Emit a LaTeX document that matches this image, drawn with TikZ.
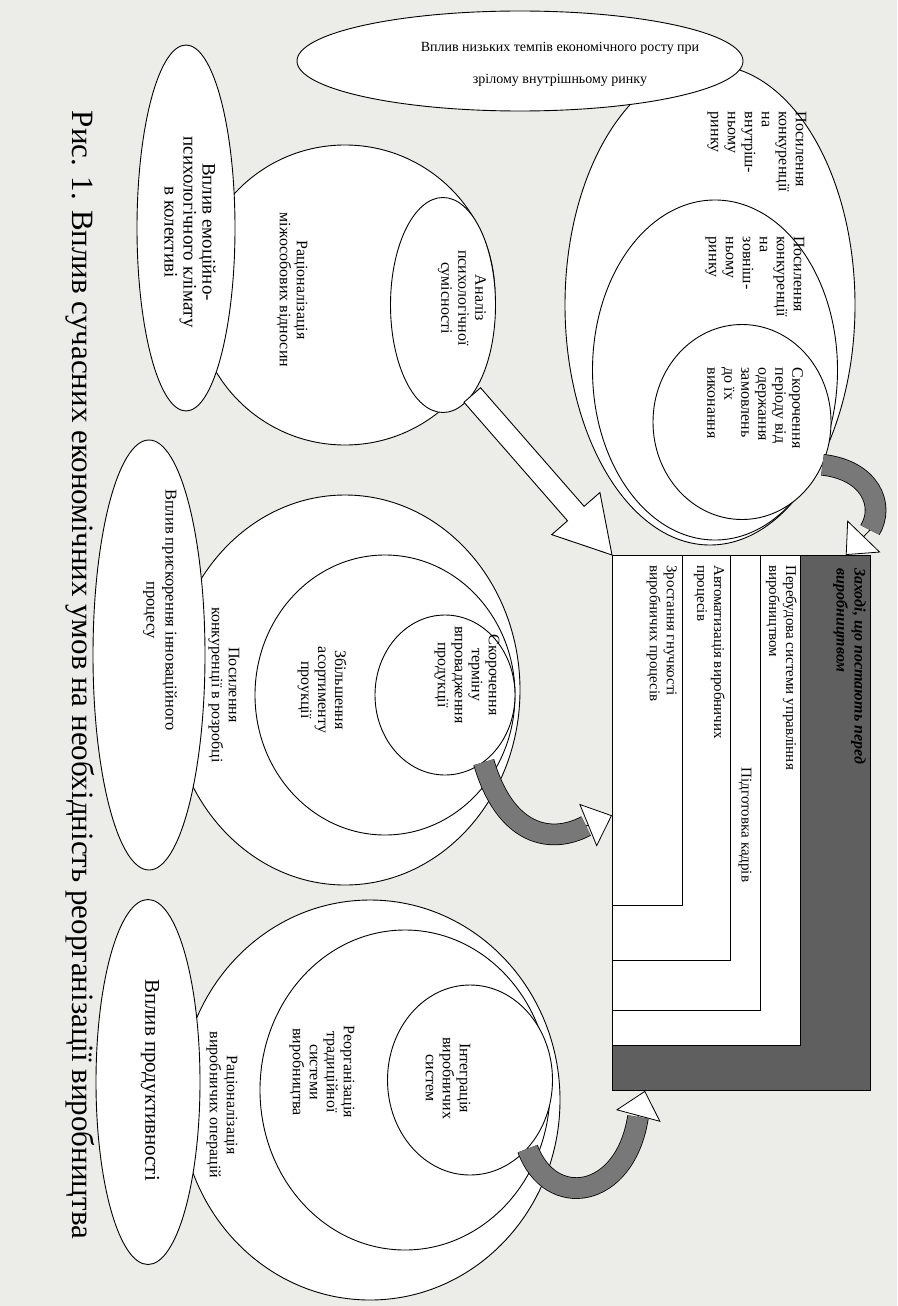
\documentclass[tikz,border=0pt]{standalone}
\usepackage{fontspec}
\setmainfont{Liberation Serif}
\usetikzlibrary{shapes.geometric, arrows.meta, positioning, calc}
\definecolor{paper}{RGB}{236,236,233}
\definecolor{halftone}{RGB}{120,120,120}
\definecolor{darkband}{RGB}{95,95,95}

\tikzset{
  ring/.style={ellipse, draw, line width=0.9pt, fill=white, inner sep=0pt},
  sidenote/.style={ellipse, draw, line width=0.9pt, fill=white, inner sep=0pt},
  vtext/.style={rotate=-90, font=\fontsize{16}{17}\selectfont, align=center, inner sep=0pt},
  bigtext/.style={vtext, font=\fontsize{19}{19}\selectfont},
  stepbox/.style={draw, line width=0.8pt, anchor=north west, inner sep=0pt},
  bentarrow/.style={double=halftone, double distance=20pt, line width=0.8pt},
  arrowhead/.style={line width=0.8pt, -{Triangle[length=26pt, width=46pt, fill=white]}},
}

\begin{document}
\begin{tikzpicture}[x=1pt, y=-1pt]
    \useasboundingbox[fill=paper] (0,0) rectangle (897,1306);

    % Group 1: competition on the markets
    \node[ring, minimum width=290, minimum height=480] (g1out) at (710,305) {};
    \node[sidenote, minimum width=446, minimum height=100] (growth) at (520,61) {};
    \node[align=center, font=\fontsize{14}{32}\selectfont] (growthT) at (560,64)
        {Вплив низьких темпів економічного росту при\\зрілому внутрішньому ринку};
    \node[ring, minimum width=245, minimum height=340] (g1mid) at (715,370) {};
    \node[ring, minimum width=178, minimum height=195] (g1in) at (742,422) {};
    \node[vtext, align=left] (g1outT) at (757,152) {Посилення\\конкуренції\\на\\внутріш-\\ньому\\ринку};
    \node[vtext, align=left] (g1midT) at (755,277) {Посилення\\конкуренції\\на\\зовніш-\\ньому\\ринку};
    \node[vtext, align=left] (g1inT) at (755,408) {Скорочення\\періоду від\\одержання\\замовлень\\до їх\\виконання};

    % Group 2: psychological climate
    \node[ring, minimum width=300, minimum height=300] (g2out) at (345,295) {};
    \node[ring, minimum width=105, minimum height=215] (g2in) at (443,305) {};
    \node[sidenote, minimum width=98, minimum height=366] (emo) at (186,228) {};
    \node[bigtext] (emoT) at (190,232) {Вплив емоційно-\\психологічного клімату\\в колективі};
    \node[vtext] (g2outT) at (292,290) {Раціоналізація\\міжособових відносин};
    \node[vtext] (g2inT) at (462,298) {Аналіз\\психологічної\\сумісності};

    % Group 3: innovation
    \node[ring, minimum width=350, minimum height=390] (g3out) at (345,690) {};
    \node[ring, minimum width=260, minimum height=280] (g3mid) at (385,695) {};
    \node[ring, minimum width=140, minimum height=160] (g3in) at (445,695) {};
    \node[sidenote, minimum width=112, minimum height=430] (inno) at (149,655) {};
    \node[bigtext, font=\fontsize{16.5}{19}\selectfont] (innoT) at (160,610) {Вплив прискорення інноваційного\\процесу};
    \node[vtext] (g3outT) at (224,685) {Посилення\\конкуренції в розробці};
    \node[vtext] (g3midT) at (322,690) {Збільшення\\асортименту\\проукції};
    \node[vtext] (g3inT) at (467,675) {Скорочення\\терміну\\впровадження\\продукції};

    % Group 4: productivity
    \node[ring, minimum width=380, minimum height=400] (g4out) at (370,1100) {};
    \node[ring, minimum width=290, minimum height=320] (g4mid) at (405,1090) {};
    \node[ring, minimum width=165, minimum height=190] (g4in) at (470,1080) {};
    \node[sidenote, minimum width=104, minimum height=365] (prod) at (148,1082) {};
    \node[bigtext, font=\fontsize{21}{21}\selectfont] (prodT) at (150,1080) {Вплив продуктивності};
    \node[vtext] (g4outT) at (222,1105) {Раціоналізація\\виробничих операцій};
    \node[vtext] (g4midT) at (322,1072) {Реорганізація\\традиційної\\системи\\виробництва};
    \node[vtext] (g4inT) at (448,1078) {Інтеграція\\виробничих\\систем};

    % Measures box
    \node[stepbox, fill=darkband, minimum width=258, minimum height=535] (dark) at (612,555) {};
    \node[stepbox, fill=white, minimum width=188, minimum height=490] (wbox) at (612,555) {};
    \node[stepbox, minimum width=148, minimum height=455] (r1) at (612,555) {};
    \node[stepbox, minimum width=118, minimum height=405] (r2) at (612,555) {};
    \node[stepbox, minimum width=70, minimum height=350] (r3) at (612,555) {};
    \node[vtext, align=left, anchor=north west, font=\fontsize{16}{18}\selectfont\itshape\bfseries]
        (darkT) at (866,568) {Заході, що постають перед\\виробництвом};
    \node[vtext, align=left, anchor=north west, font=\fontsize{15}{17}\selectfont]
        (wboxT) at (797,565) {Перебудова системи управління\\виробництвом};
    \node[vtext, font=\fontsize{15}{17}\selectfont] (r1T) at (745,825) {Підготовка кадрів};
    \node[vtext, align=left, anchor=north west, font=\fontsize{15}{17}\selectfont]
        (r2T) at (725,565) {Автоматизація виробничих\\процесів};
    \node[vtext, align=left, anchor=north west, font=\fontsize{15}{17}\selectfont]
        (r3T) at (677,565) {Зростання гнучкості\\виробничих процесів};

    % Hollow arrow
    \draw[line width=0.9pt, fill=white] let \p1=(g2in.-72), \p2=(wbox.north west),
        \n1={atan2(\y2-\y1,\x2-\x1)}, \n2={veclen(\x2-\x1,\y2-\y1)-55} in
        ($(\p1)+(\n1+90:11pt)$) -- ($(\p1)+(\n1:\n2)+(\n1+90:11pt)$)
        -- ($(\p1)+(\n1:\n2)+(\n1+90:32pt)$) -- (\p2)
        -- ($(\p1)+(\n1:\n2)+(\n1-90:32pt)$) -- ($(\p1)+(\n1:\n2)+(\n1-90:11pt)$)
        -- ($(\p1)+(\n1-90:11pt)$) -- cycle;

    % Bent arrows
    \coordinate (a1e) at (870,530);
    \coordinate (a3e) at (586,826);
    \coordinate (a4e) at (638,1117);
    \draw[bentarrow] (g1in.-28) .. controls (870,470) and (885,505) .. (a1e);
    \draw[arrowhead] (a1e) -- ($(dark.north east)+(-25,0)$);
    \draw[bentarrow] (g3in.-60) .. controls (505,835) and (550,845) .. (a3e);
    \draw[arrowhead] (a3e) -- ($(wbox.west)+(0,15)$);
    \draw[bentarrow] (g4in.-50) .. controls (550,1210) and (625,1200) .. (a4e);
    \draw[arrowhead] (a4e) -- ($(dark.south west)+(33,0)$);

    % Caption
    \node[rotate=-90, font=\fontsize{31}{34}\selectfont] (cap) at (80,675)
        {Рис. 1. Вплив сучасних економічних умов на необхідність реорганізації виробництва};
\end{tikzpicture}
\end{document}
